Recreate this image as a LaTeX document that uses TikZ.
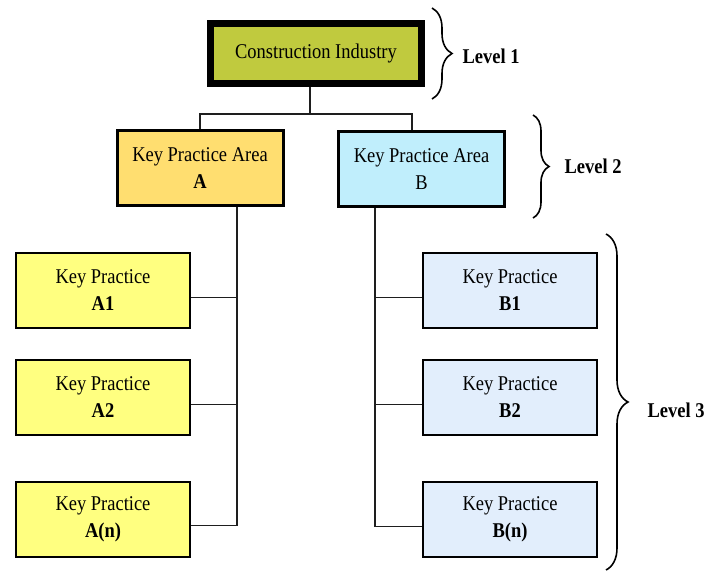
\documentclass[tikz,border=0pt]{standalone}
\usepackage{fontspec}
\setmainfont{Liberation Serif}[FakeStretch=0.88]
\usetikzlibrary{calc,decorations.pathreplacing}

\definecolor{topfill}{RGB}{192,202,62}
\definecolor{areaA}{RGB}{255,222,112}
\definecolor{areaB}{RGB}{192,238,252}
\definecolor{practA}{RGB}{255,255,128}
\definecolor{practB}{RGB}{226,238,252}
\definecolor{wire}{RGB}{30,30,30}

\tikzset{
  box/.style={draw=black, align=center, inner sep=0pt,
    font=\fontsize{21}{27}\selectfont},
  topbox/.style={box, fill=topfill, line width=7pt,
    minimum width=211pt, minimum height=60pt},
  areabox/.style={box, line width=3pt,
    minimum width=166pt, minimum height=75pt},
  practbox/.style={box, line width=2pt,
    minimum width=174pt, minimum height=75pt},
  wireline/.style={draw=wire, line width=1.8pt},
  levelbrace/.style={draw=black, line width=1.6pt, decorate,
    decoration={brace, amplitude=#1}},
  leveltext/.style={anchor=west, font=\fontsize{21}{25}\selectfont\bfseries}
}

\begin{document}
\begin{tikzpicture}[x=1pt, y=-1pt]
\useasboundingbox (0,0) rectangle (706,571);

% level 1
\node[topbox] (ci) at (316,53.5) {Construction Industry};

% level 2
\node[areabox, fill=areaA] (kpa) at (200,168) {Key Practice Area\\\textbf{A}};
\node[areabox, fill=areaB] (kpb) at (421.5,169) {Key Practice Area\\B};

% level 3
\node[practbox, fill=practA] (a1) at (103,290.5) {Key Practice\\\textbf{A1}};
\node[practbox, fill=practA] (a2) at (103,397.5) {Key Practice\\\textbf{A2}};
\node[practbox, fill=practA] (an) at (103,519.5) {Key Practice\\\textbf{A(n)}};
\node[practbox, fill=practB] (b1) at (510,290.5) {Key Practice\\\textbf{B1}};
\node[practbox, fill=practB] (b2) at (510,397.5) {Key Practice\\\textbf{B2}};
\node[practbox, fill=practB] (bn) at (510,519.5) {Key Practice\\\textbf{B(n)}};

% tree connectors
\coordinate (ciout) at ($(ci.south)+(-6,0)$);
\coordinate (split) at ($(ciout)+(0,27)$);
\coordinate (kpbin) at ($(kpb.north)+(-9.5,0)$);
\coordinate (kpaout) at ($(kpa.south)+(37,0)$);
\coordinate (kpbout) at ($(kpb.south)+(-46.5,0)$);

\draw[wireline] (ciout) -- (split);
\draw[wireline] (kpa.north) |- (split) -| (kpbin);

\draw[wireline] (kpaout) |- ($(an.east)+(0,6)$);
\draw[wireline] ($(a1.east)+(0,7)$) -- ($(a1.east)+(46,7)$);
\draw[wireline] ($(a2.east)+(0,7)$) -- ($(a2.east)+(46,7)$);

\draw[wireline] (kpbout) |- ($(bn.west)+(0,7)$);
\draw[wireline] ($(b1.west)+(0,7)$) -- ($(b1.west)+(-47,7)$);
\draw[wireline] ($(b2.west)+(0,7)$) -- ($(b2.west)+(-47,7)$);

% level braces
\coordinate (l1top) at (432,8);
\coordinate (l1bot) at (432,99);
\coordinate (l2top) at (533,115);
\coordinate (l2bot) at (533,218);
\coordinate (l3top) at (606,234);
\coordinate (l3bot) at (606,570);
\draw[levelbrace=20pt] (l1top) -- (l1bot);
\draw[levelbrace=16pt] (l2top) -- (l2bot);
\draw[levelbrace=22pt] (l3top) -- (l3bot);

\node[leveltext] (lv1) at (459,56) {Level 1};
\node[leveltext] (lv2) at (561,166) {Level 2};
\node[leveltext] (lv3) at (644,410) {Level 3};
\end{tikzpicture}
\end{document}
